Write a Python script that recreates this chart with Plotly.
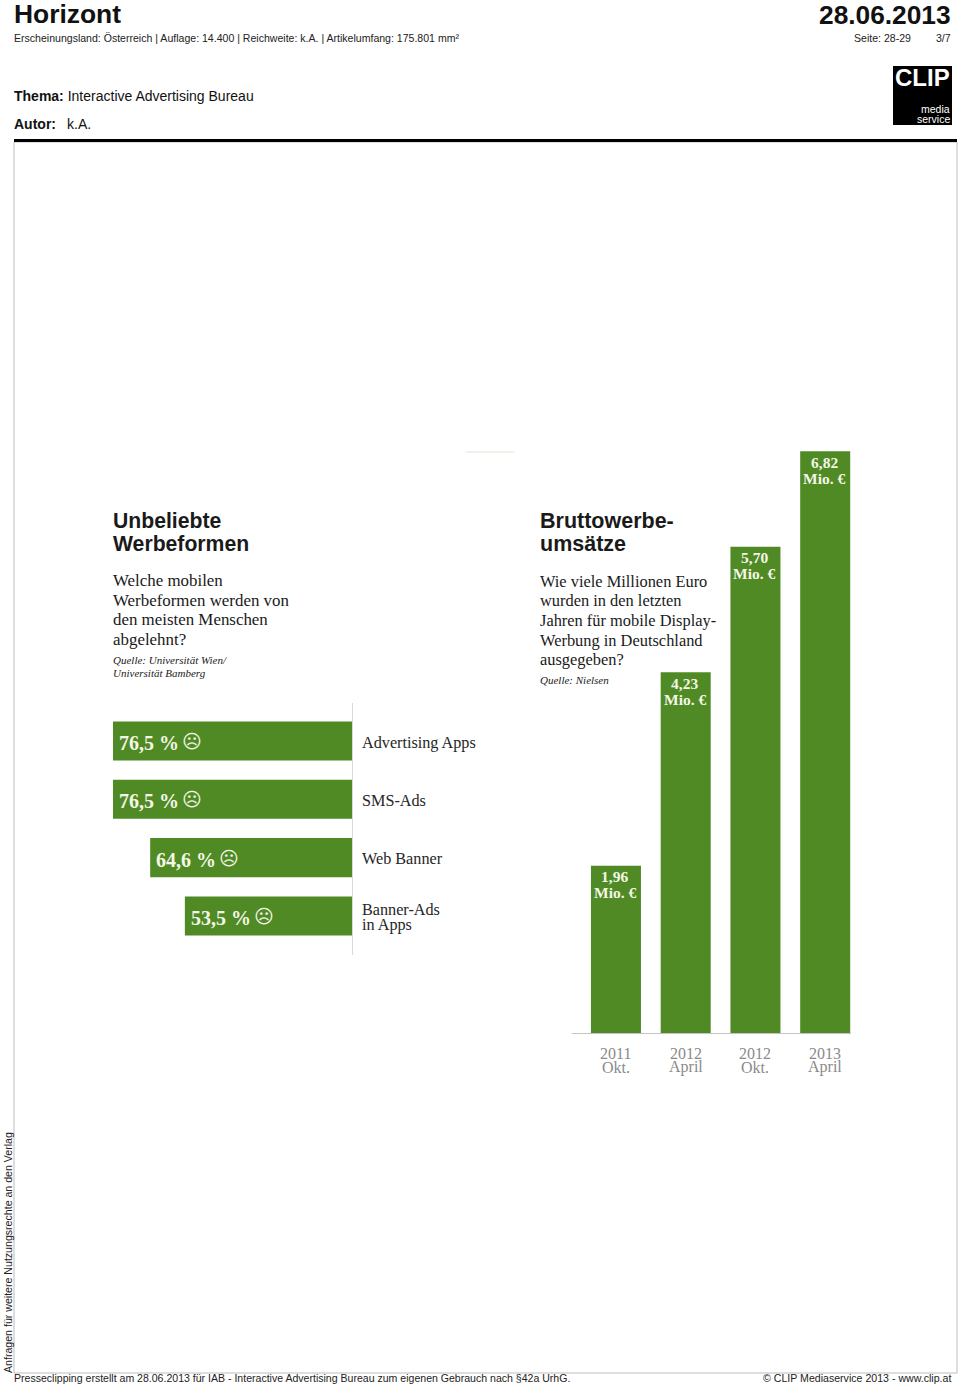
import plotly.graph_objects as go

W, H = 960, 1386
SANS = "Liberation Sans"
SERIF = "Liberation Serif"
GREEN = "#4f8a25"
LABEL = "#f4f6e6"

# data
ad_forms = ["Advertising Apps", "SMS-Ads", "Web Banner", "Banner-Ads<br>in Apps"]
rejection_pct = [76.5, 76.5, 64.6, 53.5]
periods = ["2011<br>Okt.", "2012<br>April", "2012<br>Okt.", "2013<br>April"]
revenue_mio = [1.96, 4.23, 5.70, 6.82]

title_left = ["Unbeliebte", "Werbeformen"]
question_left = ["Welche mobilen", "Werbeformen werden von", "den meisten Menschen", "abgelehnt?"]
source_left = ["Quelle: Universität Wien/", "Universität Bamberg"]
title_right = ["Bruttowerbe-", "umsätze"]
question_right = ["Wie viele Millionen Euro", "wurden in den letzten", "Jahren für mobile Display-",
                  "Werbung in Deutschland", "ausgegeben?"]
source_right = ["Quelle: Nielsen"]


def px(x):
    return x / W


def py(y):
    return 1 - y / H


fig = go.Figure()
annotations = []


def note(text, x, y, size, color="#1a1a1a", family=SANS, anchor="left", weight=None):
    font = dict(size=size, color=color, family=family)
    if weight:
        font["weight"] = weight
    annotations.append(dict(text=text, x=px(x), y=py(y), xref="paper", yref="paper",
                            xanchor=anchor, yanchor="middle", showarrow=False,
                            font=font, borderpad=0))


def block(lines, x, y0, leading, size, family, color="#1a1a1a", weight=None):
    for i, line in enumerate(lines):
        note(line, x, y0 + i * leading, size, color, family, weight=weight)


# horizontal bars
fig.add_trace(go.Bar(
    x=rejection_pct, y=list(range(len(ad_forms))), orientation="h", width=0.669,
    marker=dict(color=GREEN, line_width=0),
    xaxis="x", yaxis="y", hoverinfo="skip", showlegend=False))

# vertical bars
fig.add_trace(go.Bar(
    x=list(range(len(periods))), y=revenue_mio, width=0.717,
    marker=dict(color=GREEN, line_width=0),
    xaxis="x2", yaxis="y2", hoverinfo="skip", showlegend=False))

# labels of the horizontal chart
for i, (cat, v) in enumerate(zip(ad_forms, rejection_pct)):
    lines = cat.split("<br>")
    for j, line in enumerate(lines):
        annotations.append(dict(text=line, x=0, y=i, xref="x", yref="y", xanchor="left", yanchor="middle",
                                xshift=8, yshift=-1.5 - (j - (len(lines) - 1) / 2) * 15,
                                showarrow=False,
                                font=dict(family=SERIF, size=16.2, color="#262626")))
    annotations.append(dict(text=f"{v:.1f}".replace(".", ",") + " %", x=v, y=i, xref="x", yref="y",
                            xanchor="left", yanchor="middle", xshift=4, yshift=-2, showarrow=False,
                            font=dict(family=SERIF, size=20, color=LABEL, weight="bold")))
    annotations.append(dict(text="☹", x=v, y=i, xref="x", yref="y",
                            xanchor="center", yanchor="middle", xshift=79, yshift=0, showarrow=False,
                            font=dict(family="DejaVu Sans", size=19, color=LABEL)))

# labels of the vertical chart
for i, v in enumerate(revenue_mio):
    for j, line in enumerate([f"{v:.2f}".replace(".", ","), "Mio. €"]):
        annotations.append(dict(text=line, x=i, y=v, xref="x2", yref="y2", xanchor="center", yanchor="middle",
                                xshift=-1, yshift=-(11 + j * 16), showarrow=False,
                                font=dict(family=SERIF, size=15.5, color=LABEL, weight="bold")))
    for j, line in enumerate(periods[i].split("<br>")):
        annotations.append(dict(text=line, x=i, y=0, xref="x2", yref="y2", xanchor="center", yanchor="middle",
                                yshift=-(20 + j * 14), showarrow=False,
                                font=dict(family=SERIF, size=16, color="#8a8a8a")))

# text blocks of the two graphics
block(title_left, 112, 520, 23, 21.2, SANS, weight="bold")
block(question_left, 112, 581, 19.4, 16.9, SERIF)
block([f"<i>{s}</i>" for s in source_left], 112, 660, 13, 11, SERIF)
block(title_right, 539, 520.5, 23, 21.5, SANS, weight="bold")
block(question_right, 539, 581.5, 19.5, 16.4, SERIF)
block([f"<i>{s}</i>" for s in source_right], 539, 680, 13, 11, SERIF)

# page furniture
note("<b>Horizont</b>", 13, 14, 26.4, "#111111")
note("<b>28.06.2013</b>", 952, 14.5, 26.3, "#111111", anchor="right")
note("Erscheinungsland: Österreich | Auflage: 14.400 | Reichweite: k.A. | Artikelumfang: 175.801 mm²",
     13, 38, 10.55, "#222222")
note("Seite: 28-29", 912, 38, 10.55, "#222222", anchor="right")
note("3/7", 952, 38, 10.55, "#222222", anchor="right")
note("<b>Thema:</b> Interactive Advertising Bureau", 13, 96, 14, "#111111")
note("<b>Autor:</b>", 13, 124, 14, "#111111")
note("k.A.", 66, 124, 14, "#111111")
note("<b>CLIP</b>", 894, 77, 24, "#ffffff")
note("media", 951, 109, 10.5, "#ffffff", anchor="right")
note("service", 951, 119, 10.5, "#ffffff", anchor="right")
note("Presseclipping erstellt am 28.06.2013 für IAB - Interactive Advertising Bureau zum eigenen Gebrauch nach §42a UrhG.",
     13, 1378, 10.55, "#222222")
note("© CLIP Mediaservice 2013 - www.clip.at", 952, 1378, 10.6, "#222222", anchor="right")
annotations.append(dict(text="Anfragen für weitere Nutzungsrechte an den Verlag", x=px(8), y=py(1253),
                        xref="paper", yref="paper", xanchor="center", yanchor="middle", textangle=-90,
                        showarrow=False, font=dict(size=10.6, family=SANS, color="#222222")))

shapes = [
    dict(type="rect", xref="paper", yref="paper", x0=px(893), x1=px(952), y0=py(125), y1=py(66),
         fillcolor="#000000", line_width=0, layer="below"),
    dict(type="rect", xref="paper", yref="paper", x0=px(14), x1=px(957), y0=py(142), y1=py(139),
         fillcolor="#000000", line_width=0),
    dict(type="rect", xref="paper", yref="paper", x0=px(14), x1=px(957), y0=py(1373), y1=py(142),
         fillcolor="rgba(0,0,0,0)", line=dict(color="#bdbdbd", width=1), layer="below"),
    dict(type="line", xref="paper", yref="paper", x0=px(466), x1=px(514), y0=py(452), y1=py(452),
         line=dict(color="#dfe6d2", width=1)),
]

fig.update_layout(
    width=W, height=H, margin=dict(l=0, r=0, t=0, b=0),
    paper_bgcolor="#ffffff", plot_bgcolor="rgba(0,0,0,0)", showlegend=False,
    annotations=annotations, shapes=shapes,
    xaxis=dict(domain=[px(113), px(352)], range=[76.5, 0], visible=False, anchor="y"),
    yaxis=dict(domain=[py(955), py(703)], range=[3.67, -0.652], anchor="x", side="right",
               showticklabels=False, ticks="", showgrid=False, zeroline=False,
               showline=True, linecolor="#d9d9d9", linewidth=1),
    xaxis2=dict(domain=[px(572), px(851)], range=[-0.63, 3.37], anchor="y2", showticklabels=False,
                ticks="", showgrid=False, zeroline=False, showline=True, linecolor="#c4c4c4", linewidth=1),
    yaxis2=dict(domain=[py(1033), py(436)], range=[0, 7], anchor="x2", visible=False),
)

fig.write_html("out.html", config={"displayModeBar": False},
               post_script="document.body.style.margin='0';")
